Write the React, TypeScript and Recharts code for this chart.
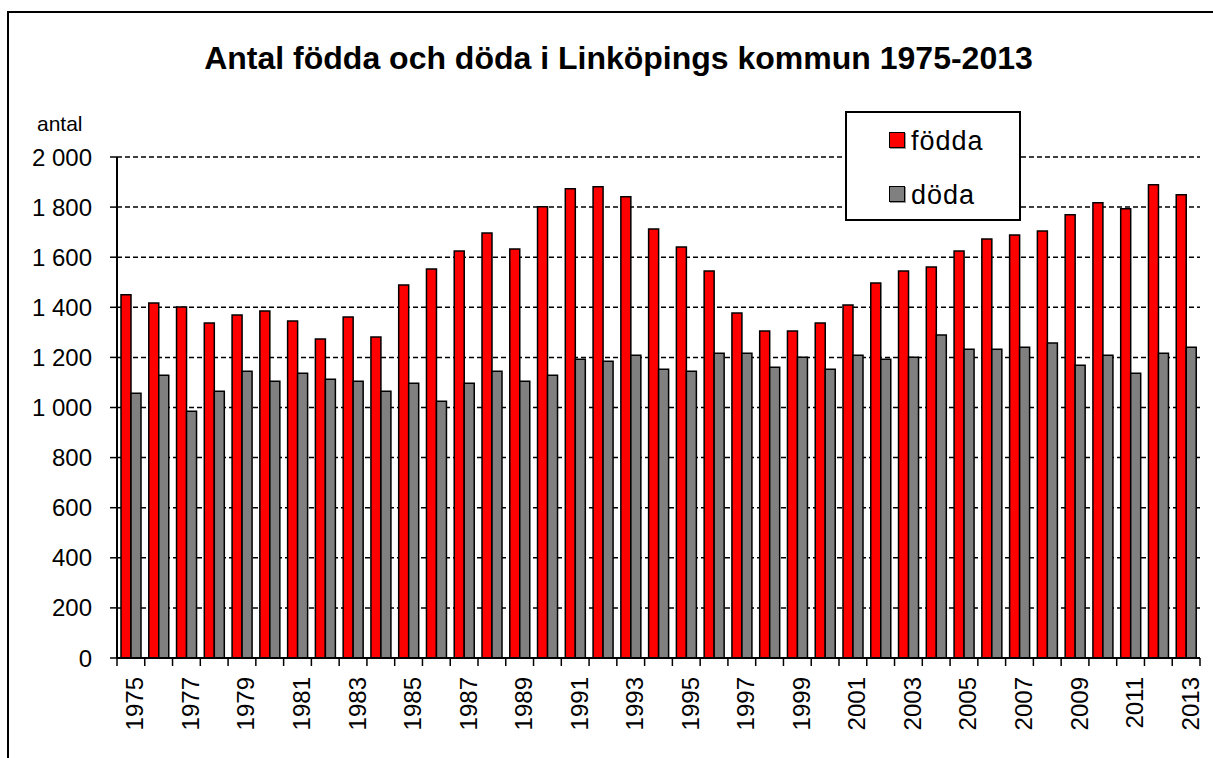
import React from 'react';
import { BarChart, Bar, XAxis, YAxis, CartesianGrid } from 'recharts';

const years = [
  1975, 1976, 1977, 1978, 1979, 1980, 1981, 1982, 1983, 1984, 1985, 1986, 1987,
  1988, 1989, 1990, 1991, 1992, 1993, 1994, 1995, 1996, 1997, 1998, 1999, 2000,
  2001, 2002, 2003, 2004, 2005, 2006, 2007, 2008, 2009, 2010, 2011, 2012, 2013,
];

const fodda = [
  1450, 1417, 1401, 1337, 1369, 1385, 1345, 1273, 1361, 1281, 1489, 1553, 1625,
  1697, 1633, 1801, 1873, 1881, 1841, 1713, 1641, 1545, 1377, 1305, 1305, 1337,
  1409, 1497, 1545, 1561, 1625, 1673, 1689, 1705, 1769, 1817, 1793, 1889, 1849,
];

const doda = [
  1057, 1129, 985, 1065, 1145, 1105, 1137, 1113, 1105, 1065, 1097, 1025, 1097,
  1145, 1105, 1129, 1193, 1185, 1209, 1153, 1145, 1217, 1217, 1161, 1201, 1153,
  1209, 1193, 1201, 1289, 1233, 1233, 1241, 1257, 1169, 1209, 1137, 1217, 1241,
];

const yTicks = [0, 200, 400, 600, 800, 1000, 1200, 1400, 1600, 1800, 2000];

const seriesNames = ['födda', 'döda'];
const seriesColors = ['#ff0000', '#808080'];

const title = 'Antal födda och döda i Linköpings kommun 1975-2013';
const yLabel = 'antal';

const data = years.map((y, i) => ({ year: y, fodda: fodda[i], doda: doda[i] }));

const FONT = '"Liberation Sans", Arial, sans-serif';
const W = 1213;
const H = 758;
const PLOT_LEFT = 117;
const PLOT_RIGHT = 13;
const band = (W - PLOT_LEFT - PLOT_RIGHT) / years.length;

// thousands with a space, like "1 800"
const fmt = (v: number) =>
  v >= 1000 ? `${Math.floor(v / 1000)} ${String(v % 1000).padStart(3, '0')}` : String(v);

const XTick = (props: any) => {
  const { x, y, payload, index } = props;
  const left = x - band / 2;
  return (
    <g>
      <line x1={left} x2={left} y1={y} y2={y + 8} stroke="#000" strokeWidth={1.5} />
      {index === years.length - 1 && (
        <line x1={x + band / 2} x2={x + band / 2} y1={y} y2={y + 8} stroke="#000" strokeWidth={1.5} />
      )}
      {index % 2 === 0 && (
        <text
          x={x + 4}
          y={y + 19}
          transform={`rotate(-90, ${x + 4}, ${y + 19})`}
          textAnchor="end"
          dominantBaseline="central"
          fontSize={24}
          fontFamily={FONT}
          fill="#000"
        >
          {payload.value}
        </text>
      )}
    </g>
  );
};

export default function App() {
  return (
    <div style={{ position: 'fixed', left: 0, top: 0, width: W, height: H, overflow: 'hidden', background: '#fff', fontFamily: FONT }}>
      <div style={{ position: 'absolute', left: 7, top: 11, width: W + 20, height: H + 20, border: '2px solid #000' }} />

      <div style={{ position: 'absolute', left: 0, top: 42, width: 1237, textAlign: 'center', fontSize: 32, lineHeight: '32px', fontWeight: 'bold', color: '#000' }}>
        {title}
      </div>

      <div style={{ position: 'absolute', left: 37, top: 113, fontSize: 21, lineHeight: '21px', color: '#000' }}>{yLabel}</div>

      <div style={{ position: 'absolute', left: 0, top: 0 }}>
        <BarChart
          width={W}
          height={H}
          data={data}
          margin={{ top: 157, right: PLOT_RIGHT, bottom: 0, left: 0 }}
          barGap={0}
        >
          <CartesianGrid vertical={false} stroke="#000" strokeWidth={1.5} strokeDasharray="5 3" />
          <XAxis
            dataKey="year"
            height={100}
            interval={0}
            tickLine={false}
            tickSize={0}
            tickMargin={0}
            axisLine={{ stroke: '#000', strokeWidth: 2 }}
            tick={<XTick />}
          />
          <YAxis
            width={PLOT_LEFT}
            domain={[0, 2000]}
            ticks={yTicks}
            interval={0}
            tickFormatter={fmt}
            tickSize={7}
            tickMargin={18}
            axisLine={{ stroke: '#000', strokeWidth: 2 }}
            tickLine={{ stroke: '#000', strokeWidth: 1.5 }}
            tick={{ fill: '#000', fontSize: 24, fontFamily: FONT }}
          />
          <Bar dataKey="fodda" name={seriesNames[0]} fill={seriesColors[0]} stroke="#000" strokeWidth={1.5} barSize={10} isAnimationActive={false} />
          <Bar dataKey="doda" name={seriesNames[1]} fill={seriesColors[1]} stroke="#000" strokeWidth={1.5} barSize={10} isAnimationActive={false} />
        </BarChart>
      </div>

      <div style={{ position: 'absolute', left: 845, top: 111, width: 176, height: 110, boxSizing: 'border-box', border: '2px solid #000', background: '#fff' }}>
        {seriesNames.map((n, i) => (
          <React.Fragment key={n}>
            <div style={{ position: 'absolute', left: 42, top: 19 + i * 54, width: 14, height: 14, background: seriesColors[i], border: '1.5px solid #000', boxShadow: '1px 1px 0 #999' }} />
            <div style={{ position: 'absolute', left: 64, top: 15 + i * 54, fontSize: 27, lineHeight: '27px', letterSpacing: 1, color: '#000', whiteSpace: 'nowrap' }}>{n}</div>
          </React.Fragment>
        ))}
      </div>
    </div>
  );
}
